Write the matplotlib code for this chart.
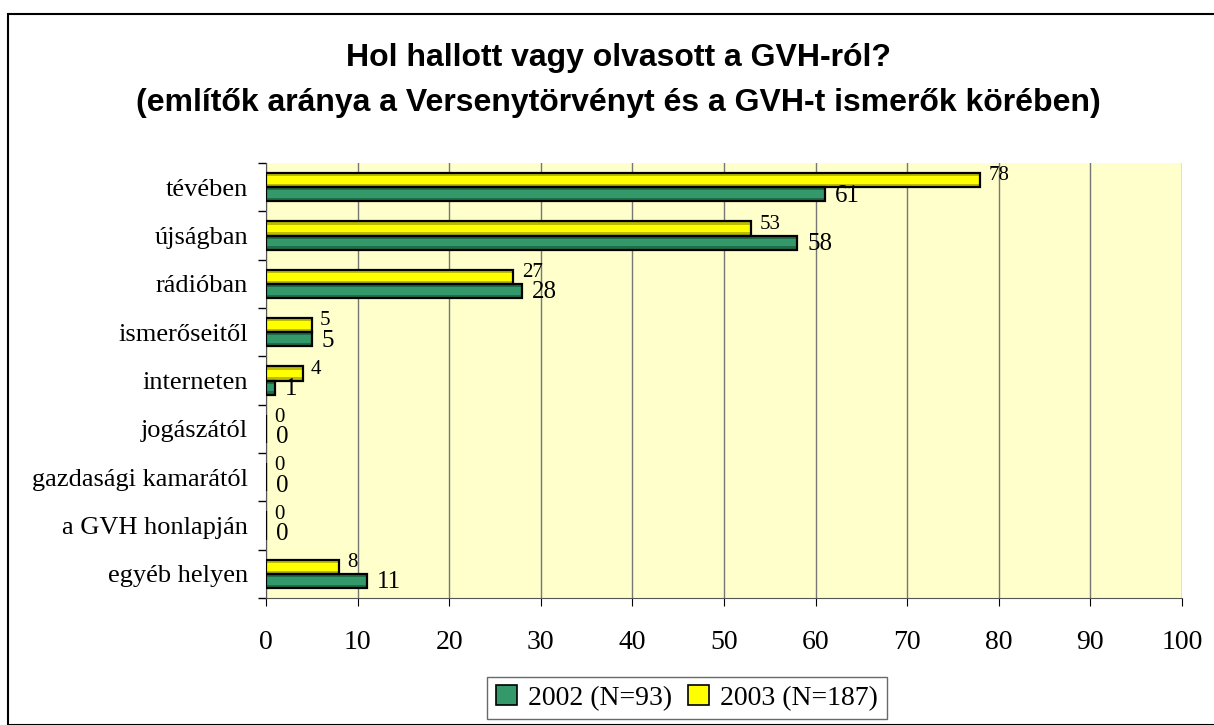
import numpy as np
import matplotlib.pyplot as plt
from matplotlib.patches import Rectangle

categories = ['tévében', 'újságban', 'rádióban', 'ismerőseitől', 'interneten',
              'jogászától', 'gazdasági kamarától', 'a GVH honlapján', 'egyéb helyen']
vals_2002 = [61, 58, 28, 5, 1, 0, 0, 0, 11]
vals_2003 = [78, 53, 27, 5, 4, 0, 0, 0, 8]
labels = ['2002 (N=93)', '2003 (N=187)']
xticks = list(range(0, 101, 10))

plt.rcParams['font.family'] = ['Liberation Serif', 'DejaVu Serif']

fig = plt.figure(figsize=(12.14, 7.25), dpi=100)
ax = fig.add_axes([266 / 1214, 1 - 598 / 725, 916 / 1214, 435 / 725])
ax.set_facecolor('#FFFFCC')

n = len(categories)
y = np.arange(n)
h = 0.29

# bars with a lighter stripe in the middle, like the Excel shading
series = [(vals_2002, y + h / 2, '#1F6E47', '#33996A', labels[0]),
          (vals_2003, y - h / 2, '#BDBD00', '#FFFF00', labels[1])]
handles = []
for vals, pos, dark, light, lab in series:
    ax.barh(pos, vals, height=h, color=dark, linewidth=0, zorder=3)
    ax.barh(pos, vals, height=h * 0.55, color=light, linewidth=0, zorder=4)
    ax.barh(pos, vals, height=h, fill=False, edgecolor='black', linewidth=1.6, zorder=5)
    handles.append(Rectangle((0, 0), 1, 1, facecolor=light, edgecolor='black', linewidth=1.2))

for i in range(n):
    ax.annotate(str(vals_2003[i]), (vals_2003[i], y[i] - h / 2), xytext=(6, 3),
                textcoords='offset points', fontsize=15, va='center', ha='left')
    ax.annotate(str(vals_2002[i]), (vals_2002[i], y[i] + h / 2), xytext=(7, -1),
                textcoords='offset points', fontsize=18, va='center', ha='left')

ax.set_xlim(0, 100)
ax.set_ylim(n - 0.5, -0.5)
ax.set_xticks(xticks)
ax.set_xticklabels([str(t) for t in xticks], fontsize=20)
ax.set_yticks(y)
ax.set_yticklabels(categories, fontsize=19)
ax.set_yticks(np.arange(-0.5, n, 1), minor=True)
ax.tick_params(axis='y', which='major', length=0, pad=13)
ax.tick_params(axis='y', which='minor', length=6, direction='out', width=1)
ax.tick_params(axis='x', length=6, direction='out', pad=17)
ax.grid(axis='x', color='#777777', linewidth=1, zorder=0)
for s in ['top', 'right']:
    ax.spines[s].set_visible(False)
ax.spines['left'].set_color('#555555')
ax.spines['bottom'].set_color('#555555')

title_font = ['Liberation Sans', 'DejaVu Sans']
fig.text(618 / 1214, 1 - 58 / 725, 'Hol hallott vagy olvasott a GVH-ról?', fontsize=23,
         fontweight='bold', family=title_font, ha='center', va='center')
fig.text(618 / 1214, 1 - 103 / 725, '(említők aránya a Versenytörvényt és a GVH-t ismerők körében)',
         fontsize=23, fontweight='bold', family=title_font, ha='center', va='center')

fig.legend(handles=handles, labels=labels, loc='center', bbox_to_anchor=(687 / 1214, 1 - 698 / 725),
           ncol=2, fontsize=20, frameon=True, fancybox=False, edgecolor='#444444',
           handlelength=0.75, handleheight=0.75, handletextpad=0.4, columnspacing=0.6, borderpad=0.3)

fig.patches.append(Rectangle((8 / 1214, 0), 1.2, 1 - 14 / 725, transform=fig.transFigure,
                             fill=False, edgecolor='black', linewidth=1.5))

fig.savefig('out.png', dpi=100)
